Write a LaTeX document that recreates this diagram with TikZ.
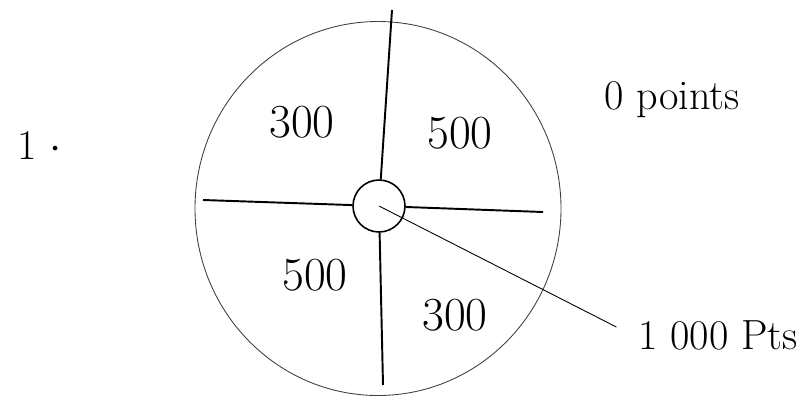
\documentclass[tikz,border=0pt]{standalone}
\usepackage{tikz}

\begin{document}
\begin{tikzpicture}
 [rim/.style={line width=0.5pt, draw=black!75},
  spoke/.style={line width=1.1pt},
  hub node/.style={circle, draw, line width=0.9pt, minimum size=1.04cm, inner sep=0pt},
  score node/.style={font=\fontsize{27}{30}\selectfont},
  note node/.style={font=\fontsize{24}{28}\selectfont}]

\useasboundingbox (0,0) rectangle (16.2,8.1);

% the wheel
\draw[rim] (7.56,3.93) ellipse [x radius=3.66cm, y radius=3.74cm];

\node[hub node] (hub) at (7.58,3.98) {};

\coordinate (w) at (4.06,4.10);
\coordinate (e) at (10.86,3.86);
\coordinate (n) at (7.84,7.90);
\coordinate (s) at (7.66,0.40);

\draw[spoke] (hub) -- (w);
\draw[spoke] (hub) -- (e);
\draw[spoke] (hub) -- (n);
\draw[spoke] (hub) -- (s);

\node[score node] (300a) at (6.04,5.66) {300};
\node[score node] (500a) at (9.20,5.44) {500};
\node[score node] (500b) at (6.30,2.60) {500};
\node[score node] (300b) at (9.10,1.80) {300};

% notes
\node[note node] (num) at (0.80,5.18) {1 $\cdot$};
\node[note node] (zero) at (13.44,6.10) {0 points};
\node[note node] (pts) at (14.36,1.40) {1 000 Pts};

\path
  (hub.center) edge [line width=0.5pt, shorten >=0.35cm] (pts.west);

\end{tikzpicture}
\end{document}
